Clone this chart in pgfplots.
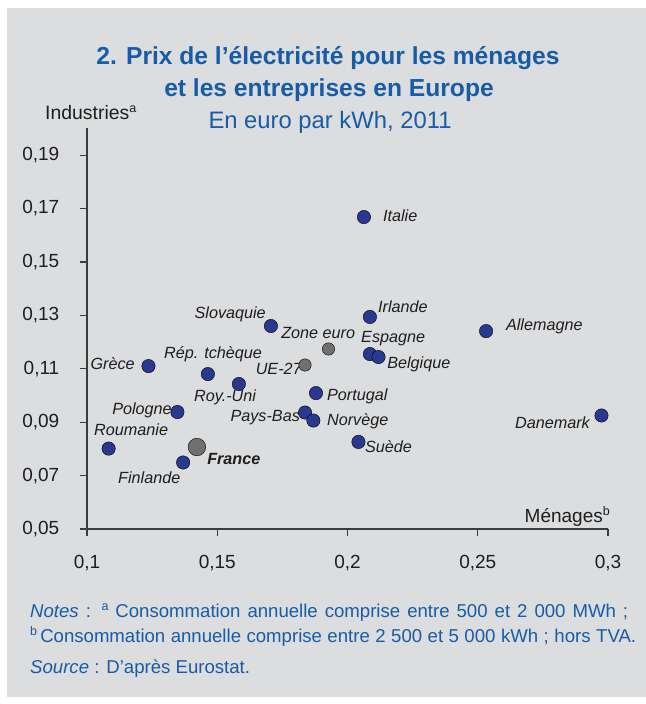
\documentclass[border=0pt]{standalone}
\usepackage{fontspec}
\setmainfont{Liberation Sans}
\usepackage{pgfplots}
\pgfplotsset{compat=1.18}
\definecolor{bg}{RGB}{220,221,223}
\definecolor{tblue}{RGB}{22,92,166}
\definecolor{dblue}{RGB}{41,57,143}
\definecolor{dgray}{RGB}{112,112,112}
\definecolor{axc}{RGB}{60,60,60}
\definecolor{txt}{RGB}{30,30,30}
\newcommand{\supnote}[1]{\raisebox{0.38em}{\fontsize{12.5bp}{13bp}\selectfont #1}}

\pgfplotstableread{
x y
0.2063 0.1668
0.2086 0.1294
0.2532 0.1241
0.1706 0.1260
0.2086 0.1155
0.2119 0.1144
0.1236 0.1110
0.1464 0.1080
0.1583 0.1043
0.1879 0.1009
0.1837 0.0936
0.1869 0.0906
0.1347 0.0938
0.1083 0.0801
0.1369 0.0749
0.2042 0.0826
0.2975 0.0925
}\pays

\pgfplotstableread{
x y
0.1927 0.1174
0.1837 0.1114
}\agreg

\pgfplotstableread{
x y
0.1422 0.0807
}\france

\begin{document}
\begin{tikzpicture}
\useasboundingbox (0bp,0bp) rectangle (646bp,704bp);
\fill[white] (0bp,0bp) rectangle (646bp,704bp);
\fill[bg] (7bp,7bp) rectangle (646bp,696bp);

\node[tblue, font=\fontsize{24.6bp}{28bp}\selectfont\bfseries] at (328bp,646bp) {2. Prix de l’électricité pour les ménages};
\node[tblue, font=\fontsize{24.6bp}{28bp}\selectfont\bfseries] at (329bp,614bp) {et les entreprises en Europe};
\node[tblue, font=\fontsize{23.8bp}{28bp}\selectfont] at (330bp,582bp) {En euro par kWh, 2011};

\node[txt, anchor=base west, inner sep=0pt, font=\fontsize{19.4bp}{22bp}\selectfont] at (45bp,584bp) {Industries\supnote{a}};
\node[txt, anchor=base east, inner sep=0pt, font=\fontsize{19bp}{22bp}\selectfont] at (610bp,181bp) {Ménages\supnote{b}};

\begin{axis}[
  at={(87bp,175bp)}, anchor=south west,
  scale only axis, width=521bp, height=400.6bp,
  xmin=0.1, xmax=0.3, ymin=0.05, ymax=0.2,
  axis x line=bottom, axis y line=left,
  axis line style={-, axc, line width=1.2bp},
  xtick={0.1,0.15,0.2,0.25,0.3},
  ytick={0.05,0.07,0.09,0.11,0.13,0.15,0.17,0.19},
  tick align=outside, major tick length=7.5bp,
  tick style={axc, line width=1.2bp},
  /pgf/number format/.cd, use comma, fixed, precision=2, assume math mode=true,
  /pgfplots/.cd,
  xticklabel style={txt, inner sep=0pt, yshift=-19bp, font=\fontsize{19bp}{22bp}\selectfont},
  yticklabel style={txt, inner sep=0pt, xshift=-20bp, font=\fontsize{19bp}{22bp}\selectfont},
  clip=false,
]
\addplot[only marks, mark=*, mark size=6.7bp, mark options={draw=none, fill=dblue}] table {\pays};
\addplot[only marks, mark=*, mark size=6.2bp, mark options={draw=none, fill=dgray}] table {\agreg};
\addplot[only marks, mark=*, mark size=8.8bp, mark options={draw=none, fill=dgray}] table {\france};

\begin{scope}[every node/.style={txt, inner sep=0pt, font=\fontsize{16.2bp}{18bp}\selectfont\itshape}]
\node[anchor=mid west] at (axis cs:0.2136,0.1661) {Italie};
\node[anchor=mid west] at (axis cs:0.2117,0.1320) {Irlande};
\node[anchor=mid west] at (axis cs:0.2608,0.1253) {Allemagne};
\node[anchor=mid east] at (axis cs:0.1687,0.1297) {Slovaquie};
\node[anchor=mid west] at (axis cs:0.1745,0.1223) {Zone euro};
\node[anchor=mid west] at (axis cs:0.2052,0.1208) {Espagne};
\node[anchor=mid west] at (axis cs:0.2152,0.1110) {Belgique};
\node[anchor=mid east] at (axis cs:0.1825,0.1088) {UE-27};
\node[anchor=mid east] at (axis cs:0.1184,0.1107) {Grèce};
\node[anchor=mid] at (axis cs:0.1484,0.1148) {Rép. tchèque};
\node[anchor=mid] at (axis cs:0.1530,0.0987) {Roy.-Uni};
\node[anchor=mid west] at (axis cs:0.1921,0.0990) {Portugal};
\node[anchor=mid east] at (axis cs:0.1818,0.0912) {Pays-Bas};
\node[anchor=mid west] at (axis cs:0.1921,0.0897) {Norvège};
\node[anchor=mid east] at (axis cs:0.1326,0.0938) {Pologne};
\node[anchor=mid west] at (axis cs:0.1027,0.0859) {Roumanie};
\node[anchor=mid west, font=\fontsize{16.2bp}{18bp}\selectfont\bfseries\itshape] at (axis cs:0.1461,0.0751) {France};
\node[anchor=mid west] at (axis cs:0.1119,0.0680) {Finlande};
\node[anchor=mid west] at (axis cs:0.2067,0.0796) {Suède};
\node[anchor=mid east] at (axis cs:0.2931,0.0886) {Danemark};
\end{scope}
\end{axis}

\begin{scope}[every node/.style={tblue, anchor=base west, inner sep=0pt, font=\fontsize{18.6bp}{22bp}\selectfont}]
\node at (30bp,86bp) {\makebox[598bp][s]{\textit{Notes} : \supnote{a} Consommation annuelle comprise entre 500 et 2~000 MWh ;}};
\node at (30bp,61bp) {\makebox[606bp][s]{\supnote{b}\,Consommation annuelle comprise entre 2~500 et 5~000 kWh ; hors TVA.}};
\node at (30bp,31bp) {\textit{Source} : D’après Eurostat.};
\end{scope}
\end{tikzpicture}
\end{document}
